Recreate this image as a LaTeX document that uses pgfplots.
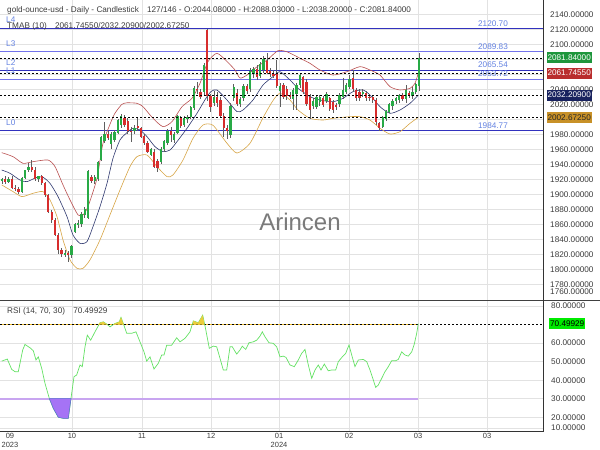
\documentclass[border=0pt]{standalone}
\usepackage{pgfplots}
\pgfplotsset{compat=1.18}
\usepackage{pgfplotstable}
\usepackage{fontspec}
\setmainfont{Liberation Sans}
\newcommand\lbl{\fontsize{8.2}{9.5}\selectfont}
\definecolor{gridc}{RGB}{226,226,226}
\definecolor{txtc}{RGB}{60,60,60}
\definecolor{lvdark}{RGB}{50,50,190}
\definecolor{lvlight}{RGB}{115,115,235}
\definecolor{lvtxt}{RGB}{100,130,225}
\definecolor{upc}{RGB}{40,170,70}
\definecolor{dnc}{RGB}{215,45,45}
\definecolor{wickc}{RGB}{95,95,95}
\definecolor{bandup}{RGB}{185,80,80}
\definecolor{bandmid}{RGB}{45,55,110}
\definecolor{bandlo}{RGB}{215,165,70}
\definecolor{taggreen}{RGB}{30,150,60}
\definecolor{tagred}{RGB}{185,45,45}
\definecolor{tagnavy}{RGB}{25,35,95}
\definecolor{taggold}{RGB}{200,145,40}
\definecolor{rsic}{RGB}{100,225,100}
\definecolor{rsitag}{RGB}{0,235,0}
\definecolor{osfill}{RGB}{165,115,245}
\definecolor{osedge}{RGB}{90,110,210}
\definecolor{osline}{RGB}{200,165,240}
\definecolor{obfill}{RGB}{235,205,60}

\pgfplotstableread{
i o h l c
0 1918 1922 1914 1920
1 1920 1925 1914 1917
2 1917 1923 1915 1921
3 1921 1924 1907 1909
4 1909 1912 1904 1907
5 1907 1910 1901 1903
6 1903 1923 1902 1922
7 1922 1933 1920 1932
8 1932 1942 1930 1937
9 1936 1946 1930 1933
10 1933 1936 1918 1920
11 1920 1925 1917 1924
12 1924 1926 1913 1915
13 1915 1917 1897 1899
14 1899 1901 1875 1877
15 1877 1879 1862 1866
16 1866 1868 1844 1846
17 1846 1848 1821 1826
18 1826 1828 1817 1820
19 1820 1826 1816 1822
20 1822 1825 1810 1819
21 1819 1833 1815 1831
22 1850 1862 1848 1860
23 1859 1866 1855 1862
24 1860 1876 1857 1874
25 1872 1883 1868 1880
26 1869 1933 1867 1931
27 1923 1926 1915 1918
28 1918 1926 1914 1923
29 1920 1945 1918 1943
30 1946 1978 1944 1976
31 1971 1996 1968 1981
32 1981 1984 1972 1975
33 1967 1983 1961 1981
34 1973 1986 1970 1983
35 1982 2001 1980 1999
36 1992 2007 1988 2005
37 2002 2006 1990 1993
38 1998 2002 1981 1985
39 1985 1990 1970 1983
40 1984 1992 1981 1988
41 1991 2003 1984 1988
42 1988 1990 1975 1977
43 1978 1981 1966 1968
44 1969 1971 1955 1957
45 1953 1962 1951 1960
46 1957 1960 1935 1937
47 1945 1947 1930 1935
48 1943 1963 1941 1961
49 1960 1973 1957 1971
50 1968 1987 1966 1985
51 1984 1990 1970 1979
52 1972 1983 1968 1981
53 1982 2006 1980 2004
54 2003 2005 1988 1991
55 1992 2005 1990 2002
56 2000 2006 1995 2003
57 2003 2018 2000 2016
58 2015 2044 2013 2042
59 2041 2050 2034 2039
60 2037 2041 2027 2030
61 2036 2075 2033 2072
62 2119 2120.5 2025 2031
63 2031 2034 2010 2017
64 2022 2038 2018 2030
65 2030 2037 2016 2022
66 2026 2030 2002 2004
67 2004 2008 1977 1988
68 1988 1992 1974 1985
69 1979 2022 1975 2018
70 2028 2047 2025 2043
71 2035 2040 2018 2021
72 2020 2030 2016 2027
73 2028 2047 2024 2044
74 2044 2047 2034 2038
75 2040 2068 2037 2064
76 2060 2070 2055 2067
77 2067 2072 2053 2056
78 2058 2076 2055 2074
79 2066 2084 2062 2080
80 2078 2088 2060 2062
81 2064 2068 2057 2060
82 2061 2066 2055 2058
83 2061 2079 2042 2045
84 2038 2048 2017 2044
85 2046 2049 2027 2030
86 2040 2044 2026 2031
87 2033 2036 2027 2030
88 2027 2042 2012 2039
89 2034 2049 2012 2046
90 2046 2062 2042 2059
91 2056 2058 2034 2037
92 2050 2054 2018 2021
93 2030 2034 2001 2012
94 2018 2028 2014 2024
95 2017 2033 2014 2030
96 2023 2033 2018 2030
97 2028 2031 2016 2019
98 2025 2037 2022 2034
99 2028 2030 2011 2014
100 2023 2026 2009 2012
101 2019 2022 2013 2017
102 2020 2035 2016 2032
103 2030 2055 2027 2039
104 2037 2049 2034 2046
105 2043 2059 2040 2054
106 2055 2066 2036 2040
107 2039 2042 2025 2028
108 2037 2040 2025 2029
109 2034 2041 2030 2036
110 2035 2038 2025 2028
111 2030 2034 2024 2029
112 2030 2033 2022 2026
113 2026 2028 1993 1996
114 1995 1997 1984 1989
115 1990 2005 1988 2003
116 2001 2013 1998 2011
117 2010 2022 2008 2020
118 2018 2027 2013 2025
119 2024 2030 2020 2028
120 2026 2034 2022 2032
121 2032 2035 2025 2027
122 2027 2046 2022 2039
123 2035 2038 2028 2031
124 2031 2043 2027 2036
125 2036 2049 2034 2047
126 2044.08 2088.03 2038.20 2081.84
}\candles

\begin{document}
\begin{tikzpicture}
\path[use as bounding box] (0pt,0pt) rectangle (600pt,-450pt);

% ---------------- main panel ----------------
\begin{axis}[
  at={(0pt,0pt)}, anchor=north west, scale only axis,
  width=543pt, height=300.7pt,
  xmin=0, xmax=543, ymin=1758.1, ymax=2159.07,
  axis line style={draw=none},
  major tick length=0pt,
  xtick={72,142,211,279,349,418,487}, xticklabels={},
  ytick={1780,1800,1820,1840,1860,1880,1900,1920,1940,1960,1980,2000,2020,2040,2060,2080,2100,2120,2140},
  yticklabels={1780.00000,1800.00000,1820.00000,1840.00000,1860.00000,1880.00000,1900.00000,1920.00000,1940.00000,1960.00000,1980.00000,{},2020.00000,2040.00000,{},{},2100.00000,2120.00000,2140.00000},
  extra y ticks={1769.6}, extra y tick labels={1760.00000},
  extra y tick style={grid=none},
  yticklabel pos=right,
  yticklabel style={font=\lbl, text=txtc, anchor=west, inner sep=0pt, xshift=7pt},
  grid=major, major grid style={gridc, line width=0.6pt},
  clip=true,
]
% levels
\addplot[lvdark, line width=0.9pt] coordinates {(0,2120.70) (543,2120.70)};
\addplot[lvlight, line width=0.9pt] coordinates {(0,2089.83) (543,2089.83)};
\addplot[lvdark, line width=0.9pt] coordinates {(0,2065.54) (543,2065.54)};
\addplot[lvlight, line width=0.9pt] coordinates {(0,2053.72) (543,2053.72)};
\addplot[lvdark, line width=0.9pt] coordinates {(0,1984.77) (543,1984.77)};
% bands
\addplot[bandup, line width=0.6pt, smooth, tension=0.4] coordinates {(1.7,1955.5) (13,1950.2) (23,1941.3) (33,1943.5) (48,1945.7) (55,1936.9) (63,1912.5) (70,1892.5) (78,1872.5) (83,1872.5) (88,1883.6) (97,1921.3) (103,1968) (113,2003) (117,2012) (122,2020) (127,2022) (137,2021.3) (143,2016.8) (153,2001.3) (163,1990.2) (172,1996.9) (182,2016.8) (192,2028) (200,2048) (208,2076.9) (217,2088) (227,2077) (235,2065.7) (240,2055) (247,2059) (257,2070) (267,2079) (278,2091.5) (287,2090) (297,2083.5) (300,2081.3) (310,2074.6) (320,2065.7) (333,2059) (347,2063.5) (360,2070.2) (370,2065.7) (380,2059) (390,2043.5) (400,2039.1) (410,2041.3) (415,2048) (418.3,2061.75)};
\addplot[bandmid, line width=0.6pt, smooth, tension=0.4] coordinates {(1.7,1932.4) (10,1928) (20,1919) (27,1916.9) (37,1922.7) (43,1922.7) (50,1914.6) (58,1896.9) (67,1870.2) (73,1845.7) (80,1834.6) (87,1836.9) (93,1856.9) (100,1883.6) (107,1914.6) (113,1948) (120,1972.4) (127,1982.2) (133,1988) (140,1985.7) (147,1976.9) (155,1963.5) (163,1956.9) (170,1959) (177,1970.2) (187,1988) (197,2008) (205,2026) (211,2037) (217,2039.1) (227,2025.7) (237,2010.2) (243,2012.4) (253,2025.7) (263,2045.7) (273,2056.9) (280,2063.5) (290,2052.4) (298,2041.3) (310,2030.2) (320,2025.7) (333,2023.5) (343,2028) (353,2036.9) (363,2039.1) (370,2032.4) (380,2016.8) (390,2008) (400,2012.4) (410,2021.3) (418.3,2032.21)};
\addplot[bandlo, line width=0.6pt, smooth, tension=0.4] coordinates {(1.7,1912.5) (13,1903.6) (22,1896.9) (33,1901.3) (43,1903.6) (50,1892.5) (57,1870.2) (63,1839.2) (70,1812.5) (77,1801.3) (83,1801.3) (90,1812.5) (100,1839.2) (110,1872.5) (120,1905.8) (130,1936.9) (137,1950.2) (147,1952.4) (157,1936.9) (167,1923.5) (173,1925.8) (183,1945.7) (193,1974.6) (203,1992.4) (213,1992) (227,1968) (237,1955) (250,1968) (263,2002) (273,2025) (280,2034.6) (290,2025.7) (298,2012.4) (310,2001.3) (323,1999) (333,2001.3) (350,2003.5) (360,2003.5) (370,1999) (380,1988) (390,1980.4) (400,1983.5) (410,1994.6) (418.3,2002.67)};
% wicks
\addplot[draw=none, mark=none, forget plot,
  error bars/.cd, y dir=both, y explicit, error mark=none,
  error bar style={draw=wickc, solid, line width=0.6pt}]
  table[x expr={2+3.31*\thisrow{i}}, y expr={(\thisrow{h}+\thisrow{l})/2}, y error expr={(\thisrow{h}-\thisrow{l})/2}] {\candles};
% up bodies
\addplot[draw=none, mark=none, forget plot,
  restrict expr to domain={\thisrow{c}-\thisrow{o}}{0:1000},
  error bars/.cd, y dir=both, y explicit, error mark=none,
  error bar style={draw=upc, solid, line width=2.3pt}]
  table[x expr={2+3.31*\thisrow{i}}, y expr={(\thisrow{o}+\thisrow{c})/2}, y error expr={max(abs(\thisrow{c}-\thisrow{o})/2,0.6)}] {\candles};
% down bodies
\addplot[draw=none, mark=none, forget plot,
  restrict expr to domain={\thisrow{c}-\thisrow{o}}{-1000:-0.001},
  error bars/.cd, y dir=both, y explicit, error mark=none,
  error bar style={draw=dnc, solid, line width=2.3pt}]
  table[x expr={2+3.31*\thisrow{i}}, y expr={(\thisrow{o}+\thisrow{c})/2}, y error expr={max(abs(\thisrow{c}-\thisrow{o})/2,0.6)}] {\candles};
% dashed value lines
\addplot[black, line width=0.5pt, dash pattern=on 2pt off 2pt] coordinates {(0,2081.84) (543,2081.84)};
\addplot[black, line width=0.5pt, dash pattern=on 2pt off 2pt] coordinates {(0,2061.7455) (543,2061.7455)};
\addplot[black, line width=0.5pt, dash pattern=on 2pt off 2pt] coordinates {(0,2032.209) (543,2032.209)};
\addplot[black, line width=0.5pt, dash pattern=on 2pt off 2pt] coordinates {(0,2002.6725) (543,2002.6725)};
\end{axis}

% ---------------- RSI panel ----------------
\begin{axis}[
  at={(0pt,-300.7pt)}, anchor=north west, scale only axis,
  width=543pt, height=131pt,
  xmin=0, xmax=543, ymin=12.2, ymax=82.9,
  axis line style={draw=none},
  major tick length=0pt,
  xtick={72,142,211,279,349,418,487},
  xticklabels={10,11,12,{01\\2024},02,03,03},
  extra x ticks={10}, extra x tick labels={{09\\2023}},
  extra x tick style={grid=none},
  xticklabel style={font=\fontsize{7.5}{9}\selectfont, text=txtc, align=center, anchor=north, inner sep=0pt, yshift=-1.5pt},
  ytick={14.2,20,40,50,60,80},
  yticklabels={10.00000,20.00000,40.00000,50.00000,60.00000,80.00000},
  extra y ticks={30}, extra y tick labels={30.00000},
  extra y tick style={grid=none},
  yticklabel pos=right,
  yticklabel style={font=\lbl, text=txtc, anchor=west, inner sep=0pt, xshift=8pt},
  grid=major, major grid style={gridc, line width=0.6pt},
]
\addplot[gridc, line width=0.6pt] coordinates {(0,30) (543,30)};
\addplot[osline, line width=2pt] coordinates {(0,30) (418.3,30)};
\addplot[obfill!80!orange, line width=0.9pt] coordinates {(0,70) (418.3,70)};
\addplot[black, line width=0.5pt, dash pattern=on 2pt off 2pt] coordinates {(0,70) (543,70)};
\addplot[rsic, line width=0.7pt] coordinates {(1.7,50.3) (7.3,51.4) (11.7,45.8) (15,44.6) (18.3,44.6) (22.7,56.3) (25,59.3) (30,57.5) (33.3,55.9) (36,50.9) (38.3,52.6) (41.7,46.4) (45,38.3) (49.3,30.2) (53.3,24.8) (58.3,20) (63.3,19.4) (68.3,19.4) (71,30.2) (74,41.9) (76.7,42.8) (80,48.2) (82.3,47.3) (85,58) (87.3,64.3) (90.7,61.6) (95,66.1) (100,71) (103.3,71.5) (106.7,70.3) (110,68.8) (115,70.6) (119.3,71.5) (121,73.9) (123.3,70.6) (126.7,65.3) (131.7,65.3) (136,66.1) (140,60.7) (144,55.3) (146.7,50.3) (150,52.6) (154,46) (158.3,49.1) (161.7,53.6) (164,53.6) (166.7,58.9) (171.7,58.9) (173.3,60.2) (176.7,62.9) (180,60.7) (185,62.6) (190,66.1) (193.3,72) (198.3,71) (202.7,75.1) (205.5,68) (209.3,57.2) (213.3,58.4) (216.7,58) (220,51.8) (223.3,45.5) (226.7,45.5) (230,58) (232.3,58) (236.7,54.1) (240,56.3) (242.3,58.4) (245.7,56.6) (249,60.2) (253.3,60.7) (256.7,61.6) (260,63.8) (262.3,66.1) (265,63.4) (269,60.2) (273.3,59.9) (276.7,58) (280,52.6) (283.3,53) (286,52.3) (290,48.2) (294.3,47.3) (298.3,50.9) (301.7,54.5) (305,56.6) (308.3,48.2) (311.7,41) (315,45.5) (318.3,48.2) (321,45.5) (324.3,48.7) (328.3,45.1) (331.7,45.5) (335.7,45.5) (338.3,50) (342.3,52.6) (345.7,54.5) (349,59) (351.7,53.6) (355,47.3) (358.3,50.9) (363.3,51.2) (366.7,50) (370,45.5) (373.3,40.1) (375.7,36.1) (378.3,37.4) (381.7,41) (385,44.6) (388.3,47.3) (391.7,50.5) (395.7,50.5) (398.3,51.2) (401.7,55.3) (405,53.6) (408.3,53) (411.7,55.3) (414.3,59.5) (416.7,65.3) (418.3,70.5)};
% oversold / overbought fills
\addplot[fill=osfill, draw=osedge, line width=0.5pt] coordinates {(49.4,30) (53.3,24.8) (58.3,20) (63.3,19.4) (68.3,19.4) (71,30)} -- cycle;
\addplot[fill=obfill, draw=none] coordinates {(98,70) (100,71) (103.3,71.5) (106.7,70.3) (107.5,70)} -- cycle;
\addplot[fill=obfill, draw=none] coordinates {(113,70) (115,70.6) (119.3,71.5) (121,73.9) (123.3,70.6) (124,70)} -- cycle;
\addplot[fill=obfill, draw=none] coordinates {(192.5,70) (193.3,72) (198.3,71) (202.7,75.1) (204.5,70)} -- cycle;
\end{axis}

% frame lines
\draw[black!75, line width=0.8pt] (0pt,-300.7pt) -- (600pt,-300.7pt);
\draw[black!80, line width=0.9pt] (543pt,0pt) -- (543pt,-431.7pt);
\draw[black!80, line width=0.9pt] (0pt,-431.7pt) -- (543pt,-431.7pt);

% texts
\node[anchor=west, font=\lbl, text=txtc, inner sep=0pt] at (7pt,-10.5pt) {gold-ounce-usd - Daily - Candlestick\quad 127/146 - O:2044.08000 - H:2088.03000 - L:2038.20000 - C:2081.84000};
\node[anchor=base west, font=\lbl, text=lvtxt, inner sep=0pt] at (6pt,-22.6pt) {L4};
\node[anchor=base west, font=\lbl, text=txtc, inner sep=0pt] at (7pt,-28.6pt) {TMAB (10)\quad 2061.74550/2032.20900/2002.67250};
\node[anchor=west, font=\lbl, text=lvtxt, inner sep=0pt] at (6pt,-44pt) {L3};
\node[anchor=west, font=\lbl, text=lvtxt, inner sep=0pt] at (6pt,-62.5pt) {L2};
\node[anchor=west, font=\lbl, text=lvtxt, inner sep=0pt] at (6pt,-71pt) {L1};
\node[anchor=west, font=\lbl, text=lvtxt, inner sep=0pt] at (6pt,-123pt) {L0};
\node[font=\lbl, text=lvtxt, inner sep=0pt] at (493pt,-24pt) {2120.70};
\node[font=\lbl, text=lvtxt, inner sep=0pt] at (493pt,-47pt) {2089.83};
\node[font=\lbl, text=lvtxt, inner sep=0pt] at (493pt,-74pt) {2053.72};
\node[font=\lbl, text=lvtxt, inner sep=0pt] at (493pt,-65pt) {2065.54};
\node[font=\lbl, text=lvtxt, inner sep=0pt] at (493pt,-126pt) {1984.77};
\node[font=\fontsize{24}{28}\selectfont, text=black!52] at (300pt,-222pt) {Arincen};

% value tags
\node[anchor=west, fill=taggreen, text=white, font=\lbl, minimum width=45pt, minimum height=11pt, inner sep=0pt] at (546.5pt,-57.9pt) {2081.84000};
\node[anchor=west, fill=tagred, text=white, font=\lbl, minimum width=45pt, minimum height=11pt, inner sep=0pt] at (546.5pt,-73pt) {2061.74550};
\node[anchor=west, fill=tagnavy, text=white, font=\lbl, minimum width=45pt, minimum height=11pt, inner sep=0pt] at (546.5pt,-95.1pt) {2032.20900};
\node[anchor=west, fill=taggold, text=black!85, font=\lbl, minimum width=45pt, minimum height=11pt, inner sep=0pt] at (546.5pt,-117.3pt) {2002.67250};
\node[anchor=west, font=\lbl, text=txtc, inner sep=0pt] at (7pt,-311pt) {RSI (14, 70, 30)\quad 70.49929};
\node[anchor=west, fill=rsitag, text=black, font=\lbl, minimum width=36pt, minimum height=11pt, inner sep=0pt] at (549pt,-323.7pt) {70.49929};
\end{tikzpicture}
\end{document}
